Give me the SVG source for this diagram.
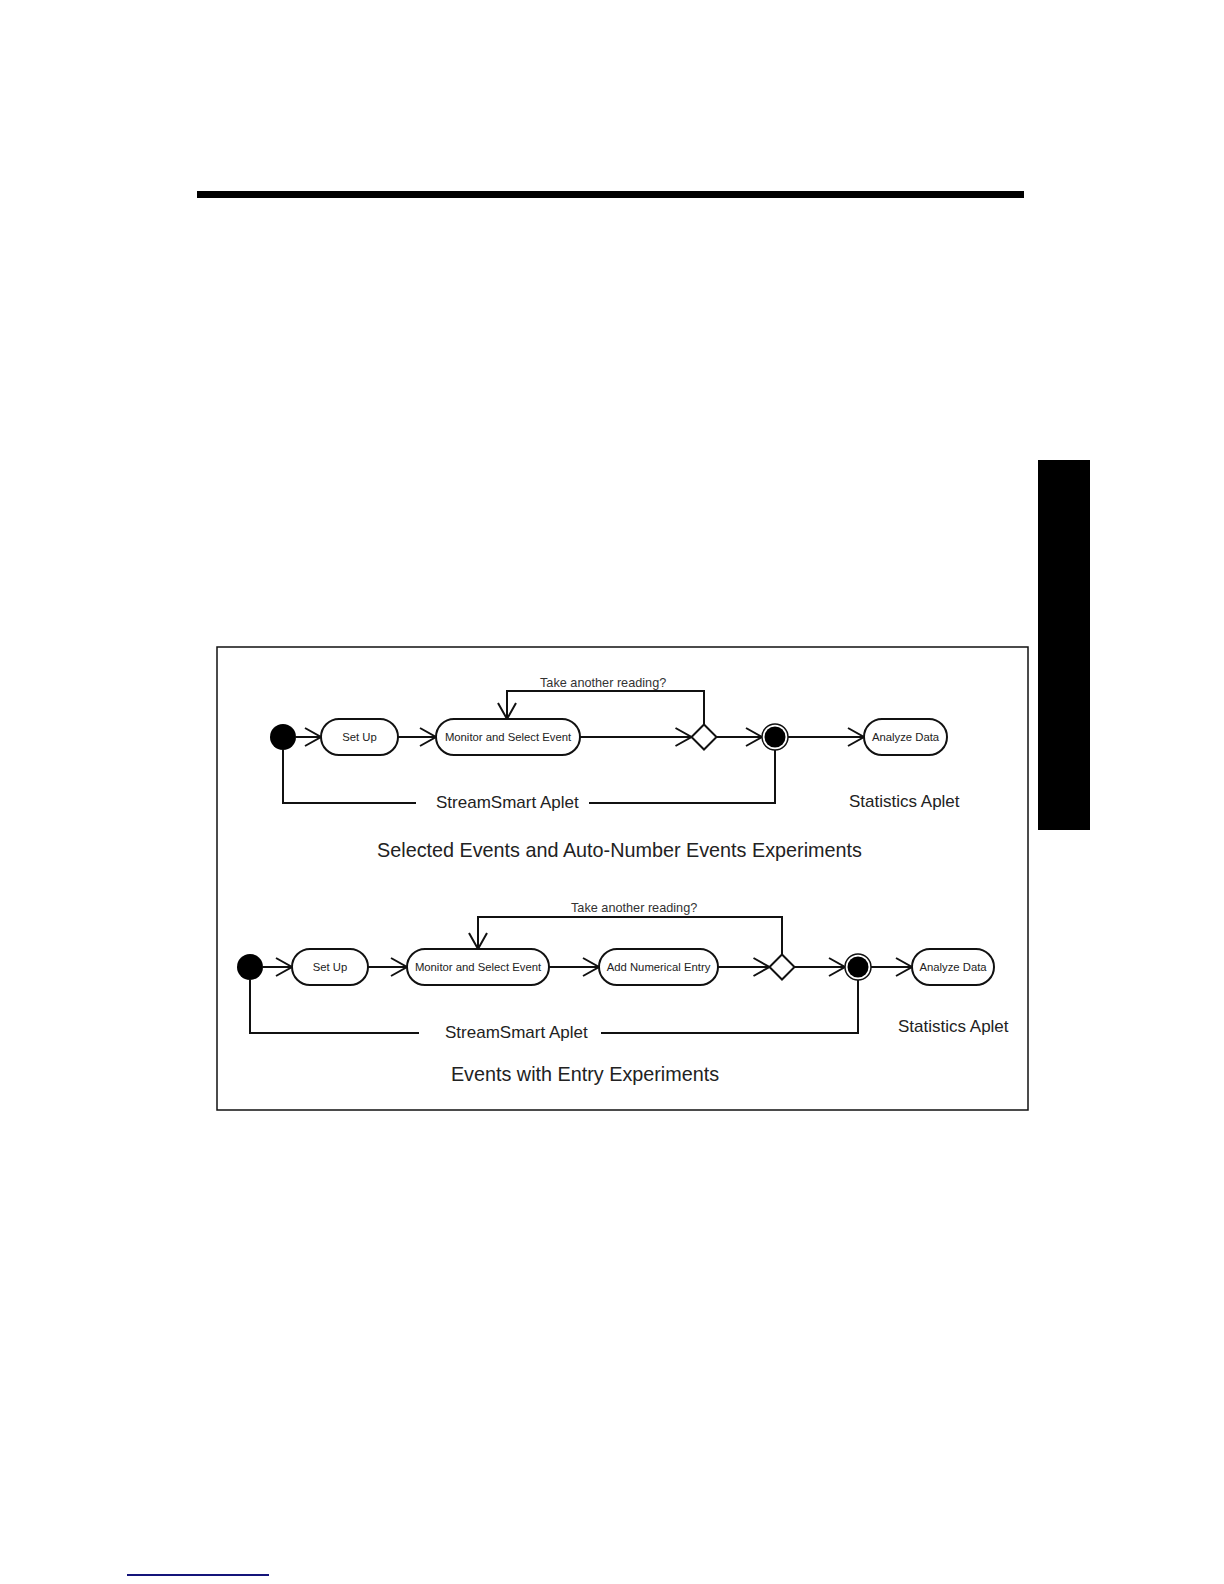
<svg xmlns="http://www.w3.org/2000/svg" width="1224" height="1584" viewBox="0 0 1224 1584">
<style>
.box{fill:#fff;stroke:#111;stroke-width:2}
.ln{fill:none;stroke:#111;stroke-width:2}
.lbl{font-family:"Liberation Sans",Arial,sans-serif;font-size:11.3px;fill:#222;text-anchor:middle}
.q{font-family:"Liberation Sans",Arial,sans-serif;font-size:12.7px;fill:#333}
.big{font-family:"Liberation Sans",Arial,sans-serif;font-size:17px;fill:#222}
.title{font-family:"Liberation Sans",Arial,sans-serif;font-size:19.8px;fill:#222;text-anchor:middle}
</style>
<defs>
<marker id="arr" markerUnits="userSpaceOnUse" markerWidth="20" markerHeight="20" viewBox="-17 -10 19 20" refX="0" refY="0" orient="auto">
<path d="M-16,-9 L0,0 L-16,9" fill="none" stroke="#111" stroke-width="2"/>
</marker>
</defs>
<rect width="1224" height="1584" fill="#fff"/>
<rect x="197" y="191" width="827" height="7" fill="#000"/>
<rect x="1038" y="460" width="52" height="370" fill="#000"/>
<line x1="127" y1="1575" x2="269" y2="1575" stroke="#14147a" stroke-width="1.8"/>
<rect x="217" y="647" width="811" height="463" fill="none" stroke="#111" stroke-width="1.5"/>

<g id="connectors">
<line class="ln" x1="296" y1="737" x2="321" y2="737" marker-end="url(#arr)"/>
<line class="ln" x1="398" y1="737" x2="436" y2="737" marker-end="url(#arr)"/>
<line class="ln" x1="580" y1="737" x2="691.5" y2="737" marker-end="url(#arr)"/>
<polyline class="ln" points="704,724.5 704,691 507,691 507,719" marker-end="url(#arr)"/>
<line class="ln" x1="716.5" y1="737" x2="762" y2="737" marker-end="url(#arr)"/>
<line class="ln" x1="788" y1="737" x2="864" y2="737" marker-end="url(#arr)"/>
<polyline class="ln" points="283,750 283,803 416,803"/>
<polyline class="ln" points="589,803 775,803 775,750"/>
<line class="ln" x1="263" y1="967" x2="292" y2="967" marker-end="url(#arr)"/>
<line class="ln" x1="368" y1="967" x2="407" y2="967" marker-end="url(#arr)"/>
<line class="ln" x1="549" y1="967" x2="599" y2="967" marker-end="url(#arr)"/>
<line class="ln" x1="718" y1="967" x2="769.5" y2="967" marker-end="url(#arr)"/>
<polyline class="ln" points="782,954.5 782,917 478,917 478,949" marker-end="url(#arr)"/>
<line class="ln" x1="794.5" y1="967" x2="845" y2="967" marker-end="url(#arr)"/>
<line class="ln" x1="871" y1="967" x2="912" y2="967" marker-end="url(#arr)"/>
<polyline class="ln" points="250,980 250,1033 419,1033"/>
<polyline class="ln" points="601,1033 858,1033 858,980"/>
</g>

<g id="labels">
<text class="q" x="540" y="687">Take another reading?</text>
<text class="big" x="436" y="808">StreamSmart Aplet</text>
<text class="big" x="849" y="807">Statistics Aplet</text>
<text class="title" x="619.5" y="857">Selected Events and Auto-Number Events Experiments</text>
<text class="q" x="571" y="912">Take another reading?</text>
<text class="big" x="445" y="1038">StreamSmart Aplet</text>
<text class="big" x="898" y="1032">Statistics Aplet</text>
<text class="title" x="585" y="1081">Events with Entry Experiments</text>
</g>

<g id="r1-start"><circle cx="283" cy="737" r="13" fill="#000"/></g>
<g id="r1-setup"><rect class="box" x="321" y="719" width="77" height="36" rx="18"/><text class="lbl" x="359.5" y="741">Set Up</text></g>
<g id="r1-monitor"><rect class="box" x="436" y="719" width="144" height="36" rx="18"/><text class="lbl" x="508" y="741">Monitor and Select Event</text></g>
<g id="r1-decision"><polygon class="box" points="704,724.5 716.5,737 704,749.5 691.5,737"/></g>
<g id="r1-end"><circle cx="775" cy="737" r="13" fill="#fff" stroke="#111" stroke-width="1.5"/><circle cx="775" cy="737" r="10.5" fill="#000"/></g>
<g id="r1-analyze"><rect class="box" x="864" y="719" width="83" height="36" rx="18"/><text class="lbl" x="905.5" y="741">Analyze Data</text></g>

<g id="r2-start"><circle cx="250" cy="967" r="13" fill="#000"/></g>
<g id="r2-setup"><rect class="box" x="292" y="949" width="76" height="36" rx="18"/><text class="lbl" x="330" y="971">Set Up</text></g>
<g id="r2-monitor"><rect class="box" x="407" y="949" width="142" height="36" rx="18"/><text class="lbl" x="478" y="971">Monitor and Select Event</text></g>
<g id="r2-add"><rect class="box" x="599" y="949" width="119" height="36" rx="18"/><text class="lbl" x="658.5" y="971">Add Numerical Entry</text></g>
<g id="r2-decision"><polygon class="box" points="782,954.5 794.5,967 782,979.5 769.5,967"/></g>
<g id="r2-end"><circle cx="858" cy="967" r="13" fill="#fff" stroke="#111" stroke-width="1.5"/><circle cx="858" cy="967" r="10.5" fill="#000"/></g>
<g id="r2-analyze"><rect class="box" x="912" y="949" width="82" height="36" rx="18"/><text class="lbl" x="953" y="971">Analyze Data</text></g>
</svg>
